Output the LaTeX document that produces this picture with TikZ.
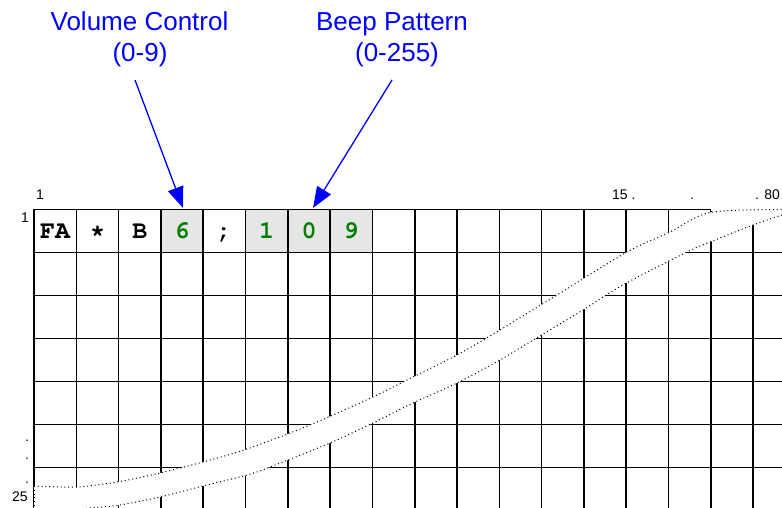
\documentclass[tikz,border=0pt]{standalone}
\usepackage{fontspec}
\usepackage[T1,TU]{fontenc}
\setmainfont{Liberation Sans}
\usetikzlibrary{arrows.meta}
\definecolor{lblblue}{RGB}{0,0,255}
\definecolor{valgreen}{RGB}{0,128,0}
\definecolor{cellgray}{RGB}{230,230,230}
\tikzset{
  gridline/.style={line width=1.6pt, line cap=rect},
  cell/.style={inner sep=0pt, anchor=base,
    font={\fontencoding{T1}\fontfamily{pcr}\fontseries{b}\fontsize{25}{30}\selectfont}},
  valcell/.style={cell, text=valgreen},
  small/.style={inner sep=0pt, font=\fontsize{14}{16}\selectfont},
  lbl/.style={inner sep=0pt, anchor=base, text=lblblue, font=\fontsize{26}{31}\selectfont},
  pointer/.style={draw=lblblue, line width=1.3pt, -{Triangle[length=21pt,width=16pt]}},
  tear/.style={line width=1pt, dash pattern=on 1pt off 2.8pt},
}
\begin{document}
\begin{tikzpicture}[x=1pt,y=-1pt]
\useasboundingbox (0,0) rectangle (782,508);
\clip (0,0) rectangle (782,508);
% shaded cells
\fill[cellgray] (160.9,209.5) rectangle (203.2,252.5);
\fill[cellgray] (245.5,209.5) rectangle (372.4,252.5);
% grid
\foreach \i in {0,...,17} \draw[gridline] (34+42.3*\i,209.5) -- (34+42.3*\i,512);
\foreach \j in {0,...,6} \draw[gridline] (34,209.5+43*\j) -- (786,209.5+43*\j);
% cell texts
\node[cell] (c1) at (55.2,238) {FA};
\node[cell] (c2) at (97.5,238) {*};
\node[cell] (c3) at (139.8,238) {B};
\node[valcell] (c4) at (182.0,238) {6};
\node[cell] (c5) at (224.4,238) {;};
\node[valcell] (c6) at (266.7,238) {1};
\node[valcell] (c7) at (309.0,238) {0};
\node[valcell] (c8) at (351.2,238) {9};
% torn band
\fill[white] plot[smooth] coordinates {(34,486) (77,487) (117,482) (160,473) (203,462) (247,449) (310,425) (373,397) (413,377) (457,355) (500,330) (557,295) (627,252) (670,232) (710,212.5) (782,209.5)}
  -- (786,209.5) -- (786,215)
  -- plot[smooth] coordinates {(782,215) (753,225) (710,242) (687,252) (630,281) (603,297) (583,310) (520,348) (500,360) (457,383) (413,403) (373,423) (330,443) (270,467) (247,475) (203,486) (160,497) (120,505) (90,508) (70,510)}
  -- (34,512) -- cycle;
\fill[white] (711,206) rectangle (786,211);
\draw[tear] plot[smooth] coordinates {(34,486) (77,487) (117,482) (160,473) (203,462) (247,449) (310,425) (373,397) (413,377) (457,355) (500,330) (557,295) (627,252) (670,232) (710,212.5) (782,209.5)};
\draw[tear] plot[smooth] coordinates {(782,215) (753,225) (710,242) (687,252) (630,281) (603,297) (583,310) (520,348) (500,360) (457,383) (413,403) (373,423) (330,443) (270,467) (247,475) (203,486) (160,497) (120,505) (90,508) (70,510)};
\draw[tear] (34,486) -- (34,510);
% small labels
\node[small] (colone) at (40,195) {1};
\node[small] (rowone) at (25,218) {1};
\node[small, anchor=base west] (colfifteen) at (612,199) {15 .};
\node[small, anchor=base] (coldot) at (692,199) {.};
\node[small, anchor=base west] (coleighty) at (755,199) {. 80};
\node[small, anchor=base] (rdota) at (27,441) {.};
\node[small, anchor=base] (rdotb) at (27,459) {.};
\node[small, anchor=base] (rdotc) at (27,483) {.};
\node[small, anchor=base] (rowtwentyfive) at (20,501) {25};
% callout labels
\node[lbl] (volA) at (139.5,31) {Volume Control};
\node[lbl] (volB) at (140,61.5) {(0-9)};
\node[lbl] (beepA) at (392,31) {Beep Pattern};
\node[lbl] (beepB) at (397,61.5) {(0-255)};
\coordinate (volstart) at (135,80);
\coordinate (voltip) at (183,208);
\coordinate (beepstart) at (392,80);
\coordinate (beeptip) at (313,208);
\draw[pointer] (volstart) -- (voltip);
\draw[pointer] (beepstart) -- (beeptip);
\end{tikzpicture}
\end{document}
